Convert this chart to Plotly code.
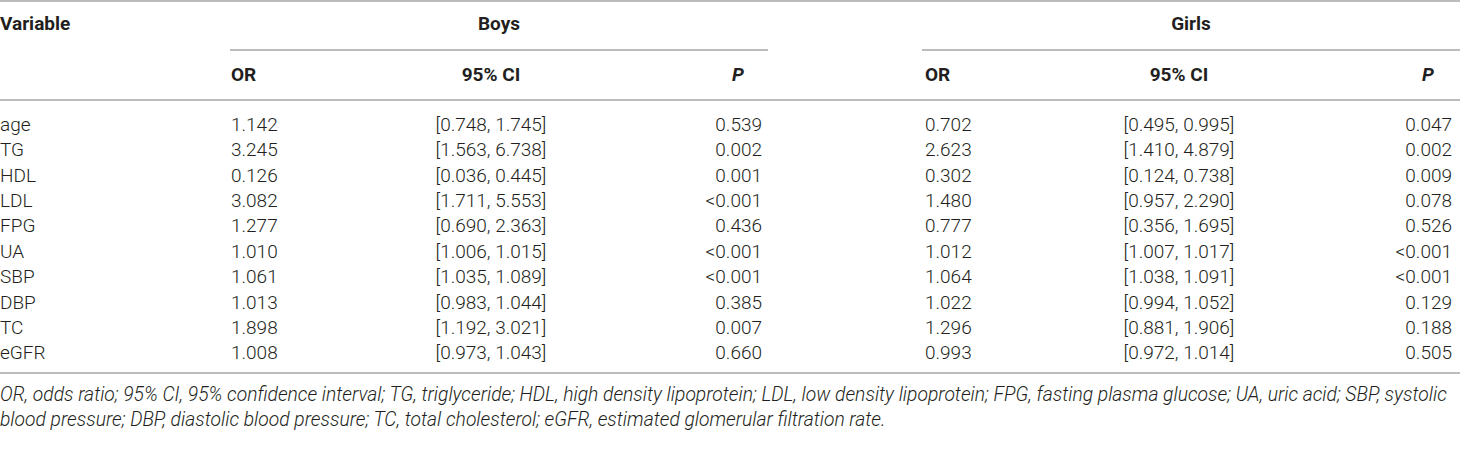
""" Table: logistic regression odds ratios by sex """
import plotly.graph_objects as go

variables = ['age', 'TG', 'HDL', 'LDL', 'FPG', 'UA', 'SBP', 'DBP', 'TC', 'eGFR']
boys_or = ['1.142', '3.245', '0.126', '3.082', '1.277', '1.010', '1.061', '1.013', '1.898', '1.008']
boys_ci = ['[0.748, 1.745]', '[1.563, 6.738]', '[0.036, 0.445]', '[1.711, 5.553]', '[0.690, 2.363]',
           '[1.006, 1.015]', '[1.035, 1.089]', '[0.983, 1.044]', '[1.192, 3.021]', '[0.973, 1.043]']
boys_p = ['0.539', '0.002', '0.001', '<0.001', '0.436', '<0.001', '<0.001', '0.385', '0.007', '0.660']
girls_or = ['0.702', '2.623', '0.302', '1.480', '0.777', '1.012', '1.064', '1.022', '1.296', '0.993']
girls_ci = ['[0.495, 0.995]', '[1.410, 4.879]', '[0.124, 0.738]', '[0.957, 2.290]', '[0.356, 1.695]',
            '[1.007, 1.017]', '[1.038, 1.091]', '[0.994, 1.052]', '[0.881, 1.906]', '[0.972, 1.014]']
girls_p = ['0.047', '0.002', '0.009', '0.078', '0.526', '<0.001', '<0.001', '0.129', '0.188', '0.505']

group_labels = ['Boys', 'Girls']
sub_labels = ['OR', '95% CI', '<i>P</i>']
footnote = ['OR, odds ratio; 95% CI, 95% confidence interval; TG, triglyceride; HDL, high density lipoprotein; '
            'LDL, low density lipoprotein; FPG, fasting plasma glucose; UA, uric acid; SBP, systolic',
            'blood pressure; DBP, diastolic blood pressure; TC, total cholesterol; eGFR, estimated glomerular '
            'filtration rate.']

# layout (axis units = pixels)
W, H = 1460, 454
FONT = 'Roboto, Arial, sans-serif'
TXT = '#231f20'
RULE = '#a6a6a6'
SIZE = 19
y_group, y_sub, y_row0, pitch = 25, 76, 126, 25.4
y_rule_bottom, y_foot0, foot_pitch = 373, 396, 25
# column anchors: (x, textposition) for OR (left), CI (centre), P (right)
col_var = 0
boys_cols = [(231, 'middle right'), (491, 'middle center'), (762, 'middle left')]
girls_cols = [(925, 'middle right'), (1179, 'middle center'), (1452, 'middle left')]
p_head_shift = 24
boys_span, girls_span = (230, 768), (922, 1460)

rows = [y_row0 + i * pitch for i in range(len(variables))]

fig = go.Figure()


def add_text(x, y, text, pos, size=SIZE, bold=False):
    fig.add_scatter(x=x, y=y, text=[('<b>%s</b>' % t) if bold else t for t in text], mode='text',
                    textposition=pos,
                    textfont=dict(family=FONT, size=size, color=TXT, weight=500 if bold else 300),
                    hoverinfo='skip', showlegend=False, cliponaxis=False)


# header
add_text([col_var], [y_group], ['Variable'], 'middle right', bold=True)
add_text([sum(boys_span) / 2, sum(girls_span) / 2], [y_group, y_group], group_labels, 'middle center', bold=True)
for cols in (boys_cols, girls_cols):
    for (x, pos), lab in zip(cols[:2], sub_labels[:2]):
        add_text([x], [y_sub], [lab], pos, bold=True)
    add_text([cols[2][0] - p_head_shift], [y_sub], [sub_labels[2]], 'middle center', bold=True)

# body
add_text([col_var] * len(rows), rows, variables, 'middle right')
for cols, data in ((boys_cols, (boys_or, boys_ci, boys_p)), (girls_cols, (girls_or, girls_ci, girls_p))):
    for (x, pos), vals in zip(cols, data):
        add_text([x] * len(rows), rows, vals, pos)

# footnote
add_text([0] * len(footnote), [y_foot0 + i * foot_pitch for i in range(len(footnote))],
         ['<i>%s</i>' % f for f in footnote], 'middle right', size=19.3)

# rules
for y, x0, x1 in ((1, 0, W), (50, boys_span[0], boys_span[1]), (50, girls_span[0], girls_span[1]),
                  (100, 0, W), (y_rule_bottom, 0, W)):
    fig.add_shape(type='line', x0=x0, x1=x1, y0=y, y1=y, xref='x', yref='y',
                  line=dict(color=RULE, width=1.6))

fig.update_xaxes(range=[0, W], visible=False, fixedrange=True)
fig.update_yaxes(range=[H, 0], visible=False, fixedrange=True)
fig.update_layout(width=W, height=H, margin=dict(l=0, r=0, t=0, b=0),
                  plot_bgcolor='white', paper_bgcolor='white')
fig.write_html('out.html', config={'displayModeBar': False},
               post_script="document.body.style.margin='0';document.body.style.overflow='hidden';")
